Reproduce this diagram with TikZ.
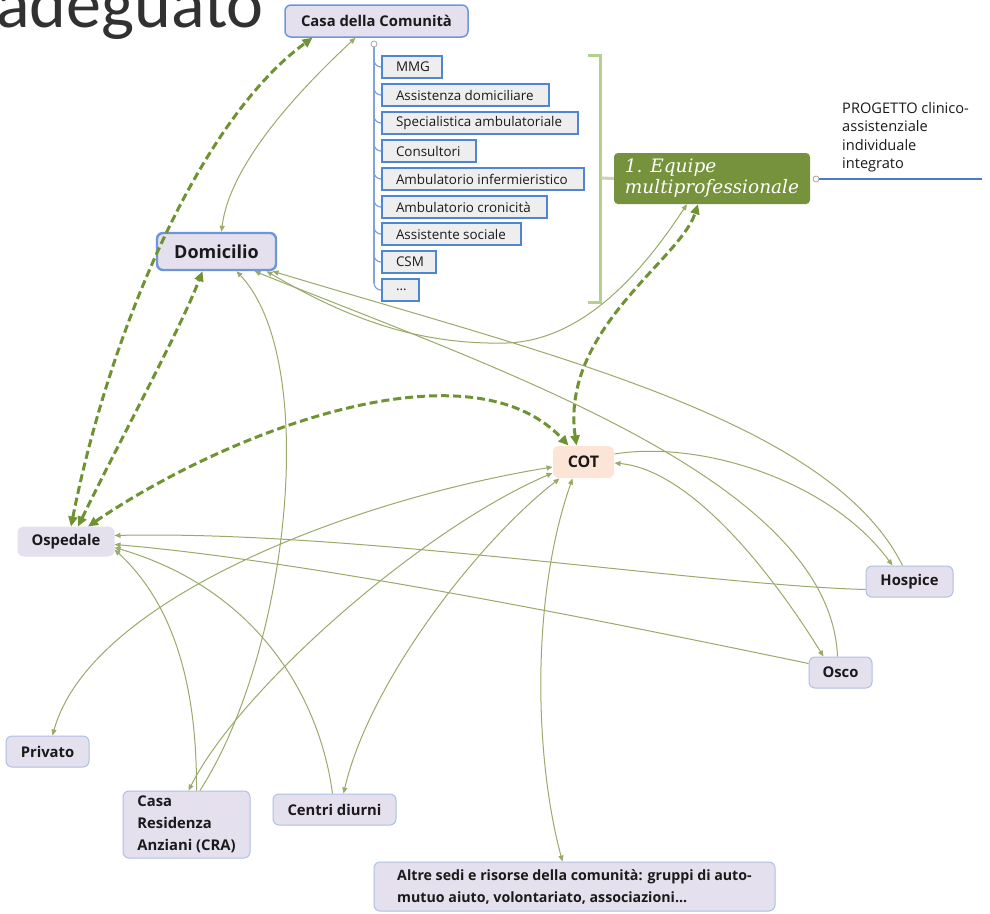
\documentclass[tikz,border=0pt]{standalone}
\usepackage{fontspec}
\setmainfont{Open Sans}
\newfontfamily\titlefont{Carlito}
\newfontfamily\eqfont{DejaVu Serif}
\usetikzlibrary{arrows.meta}
\definecolor{lav}{HTML}{E5E0ED}
\definecolor{bblue}{HTML}{6F97D8}
\definecolor{lblue}{HTML}{AEC0E4}
\definecolor{cblue}{HTML}{4F86D4}
\definecolor{cgrey}{HTML}{EEEEEE}
\definecolor{peach}{HTML}{FCE4D6}
\definecolor{eqgreen}{HTML}{76923C}
\definecolor{dgreen}{HTML}{6F9232}
\definecolor{tgreen}{HTML}{9AAA6A}
\definecolor{brgreen}{HTML}{B5CF8C}
\definecolor{tline}{HTML}{7FA3DA}
\definecolor{pline}{HTML}{4A7BC8}
\definecolor{txt}{HTML}{1A1A1A}
\tikzset{
  mainbox/.style={fill=lav, draw=lblue, line width=1pt, rounded corners=6pt, inner sep=0pt,
    text=txt, font=\bfseries\fontsize{14.8}{22}\selectfont, align=center},
  childbox/.style={fill=cgrey, draw=cblue, line width=2pt, anchor=west, inner xsep=14pt, inner ysep=0pt,
    minimum height=22pt, text=txt, font=\fontsize{13.4}{14}\selectfont},
  thinl/.style={draw=tgreen, line width=1pt},
  thinb/.style={thinl, {Triangle[length=6pt,width=5pt]}-{Triangle[length=6pt,width=5pt]}},
  thinr/.style={thinl, -{Triangle[length=6pt,width=5pt]}},
  dsh/.style={draw=dgreen, line width=3pt, dash pattern=on 8pt off 4pt,
    {Triangle[length=10pt,width=9pt]}-{Triangle[length=10pt,width=9pt]}},
  treeln/.style={draw=tline, line width=1.2pt},
}
\begin{document}
\begin{tikzpicture}[x=1pt,y=-1pt]
\useasboundingbox[fill=white] (0,0) rectangle (990,913);

% title fragment
\node[anchor=base east, inner sep=0pt, font=\titlefont\fontsize{70}{70}\selectfont, text=txt!90] (title) at (264,27) {adeguato};

% main nodes
\node[mainbox, draw=bblue, line width=1.5pt, minimum width=183pt, minimum height=32pt] (casa) at (376.5,21) {Casa della Comunità};
\node[mainbox, draw=bblue, line width=2.4pt, minimum width=119pt, minimum height=37pt, font=\bfseries\fontsize{18}{20}\selectfont] (dom) at (216.5,251.5) {Domicilio};
\node[mainbox, fill=peach, draw=none, minimum width=61pt, minimum height=32pt, font=\bfseries\fontsize{16}{18}\selectfont] (cot) at (583.5,462) {COT};
\node[mainbox, draw=lav, minimum width=96pt, minimum height=29pt] (osp) at (66,541.5) {Ospedale};
\node[mainbox, minimum width=87pt, minimum height=31pt] (hosp) at (909.5,581.5) {Hospice};
\node[mainbox, minimum width=63pt, minimum height=31pt] (osco) at (840.5,672.5) {Osco};
\node[mainbox, minimum width=83pt, minimum height=31pt] (priv) at (47.5,751.5) {Privato};
\node[mainbox, align=left, minimum width=127pt, minimum height=67pt] (cra) at (186.5,824.5) {Casa\\Residenza\\Anziani (CRA)};
\node[mainbox, minimum width=123pt, minimum height=31pt] (centri) at (334.5,809.5) {Centri diurni};
\node[mainbox, align=left, minimum width=401pt, minimum height=49pt, font=\bfseries\fontsize{14.2}{22}\selectfont] (altre) at (574.5,886.5) {Altre sedi e risorse della comunità: gruppi di auto-\\mutuo aiuto, volontariato, associazioni...};
\node[fill=eqgreen, rounded corners=4pt, inner sep=0pt, minimum width=196pt, minimum height=51pt, align=left, text=white,
  font=\eqfont\itshape\fontsize{18.5}{21}\selectfont] (equipe) at (712,178.5) {1. Equipe\\multiprofessionale};

% child boxes
\node[childbox] (c1) at (381,67) {\makebox[32pt][l]{MMG}};
\node[childbox] (c2) at (381,95) {\makebox[139pt][l]{Assistenza domiciliare}};
\node[childbox] (c3) at (381,123) {\makebox[168pt][l]{Specialistica ambulatoriale}};
\node[childbox] (c4) at (381,151) {\makebox[66pt][l]{Consultori}};
\node[childbox] (c5) at (381,179) {\makebox[174pt][l]{Ambulatorio infermieristico}};
\node[childbox] (c6) at (381,207) {\makebox[137pt][l]{Ambulatorio cronicità}};
\node[childbox] (c7) at (381,234) {\makebox[111pt][l]{Assistente sociale}};
\node[childbox] (c8) at (381,262) {\makebox[26pt][l]{CSM}};
\node[childbox] (c9) at (381,290) {\makebox[9pt][l]{...}};

% tree
\node[circle, draw=gray!70, fill=white, line width=0.8pt, inner sep=0pt, minimum size=6pt] (tc) at (374,44) {};
\draw[treeln] (tc.south) -- (374,283);
\foreach \c/\y in {c1/67,c2/95,c3/123,c4/151,c5/179,c6/207,c7/234,c8/262,c9/290}{
  \draw[treeln] (374,\y-7) to[out=-90,in=180] (\c.west);
}

% bracket
\coordinate (brtop) at (588,55);
\coordinate (brbot) at (588,302);
\draw[draw=brgreen, line width=3pt] (brtop) -- (600,55) -- (600,302) -- (brbot);
\draw[draw=brgreen!70!gray!60, line width=3pt] (601.5,178) -- (equipe.west);

% progetto
\node[circle, draw=gray!70, fill=white, line width=0.8pt, inner sep=0pt, minimum size=6pt] (ec) at (816,179) {};
\coordinate (pend) at (982,179);
\draw[draw=pline, line width=1.5pt] (ec.east) -- (pend);
\node[anchor=north west, inner sep=0pt, align=left, text=txt, font=\fontsize{14.6}{18.5}\selectfont] (prog) at (842,102) {PROGETTO clinico-\\assistenziale\\individuale\\integrato};

% thin connectors
\draw[thinb] ([xshift=-21pt]casa.south) .. controls (310,80) and (230,160) .. ([xshift=5pt]dom.north);
\draw[thinb] ([xshift=50pt]dom.south) .. controls (350,320) and (420,345) .. (507,343) .. controls (590,340) and (650,260) .. ([xshift=-25pt]equipe.south);
\draw[thinr] ([xshift=-7pt]hosp.north) .. controls (830,420) and (550,355) .. ([xshift=56pt]dom.south);
\draw[thinr] ([xshift=-3pt]osco.north) .. controls (830,480) and (500,370) .. ([xshift=38pt]dom.south);
\draw[thinr] ([xshift=13.5pt]cra.north) .. controls (290,650) and (320,360) .. ([xshift=20pt]dom.south);
\draw[thinr] ([yshift=-8pt]hosp.west) .. controls (700,585) and (350,530) .. ([yshift=6pt]osp.east);
\draw[thinr] ([yshift=9pt]osco.west) .. controls (600,620) and (300,560) .. ([yshift=-3pt]osp.east);
\draw[thinr] ([xshift=10pt]cra.north) .. controls (197,700) and (180,610) .. ([yshift=-8pt]osp.east);
\draw[thinr] ([xshift=-2pt]centri.north) .. controls (320,700) and (260,590) .. ([yshift=-6pt]osp.east);
\draw[thinb] ([yshift=-5pt]cot.west) .. controls (350,500) and (90,600) .. ([xshift=5pt]priv.north);
\draw[thinb] ([yshift=-11pt]cot.west) .. controls (420,530) and (240,689) .. ([xshift=2pt]cra.north);
\draw[thinb] ([xshift=-24pt]cot.south) .. controls (480,540) and (370,680) .. ([xshift=9pt]centri.north);
\draw[thinb] ([xshift=-11pt]cot.south) .. controls (530,600) and (535,760) .. ([xshift=-12pt]altre.north);
\draw[thinr] ([yshift=8pt]cot.east) .. controls (700,440) and (830,480) .. ([xshift=-17pt]hosp.north);
\draw[thinb] ([xshift=-17pt]osco.north) .. controls (770,570) and (690,470) .. ([yshift=-1pt]cot.east);

% dashed connectors
\draw[dsh] ([xshift=5pt]osp.north) .. controls (110,330) and (200,120) .. ([xshift=-64pt]casa.south);
\draw[dsh] ([xshift=12pt]osp.north) .. controls (120,440) and (180,330) .. ([xshift=-14pt]dom.south);
\draw[dsh] ([xshift=22pt]osp.north) .. controls (230,430) and (470,340) .. ([xshift=-15pt]cot.north);
\draw[dsh] ([xshift=-7pt]cot.north) .. controls (560,330) and (680,260) .. ([xshift=-14pt]equipe.south);
\end{tikzpicture}
\end{document}
